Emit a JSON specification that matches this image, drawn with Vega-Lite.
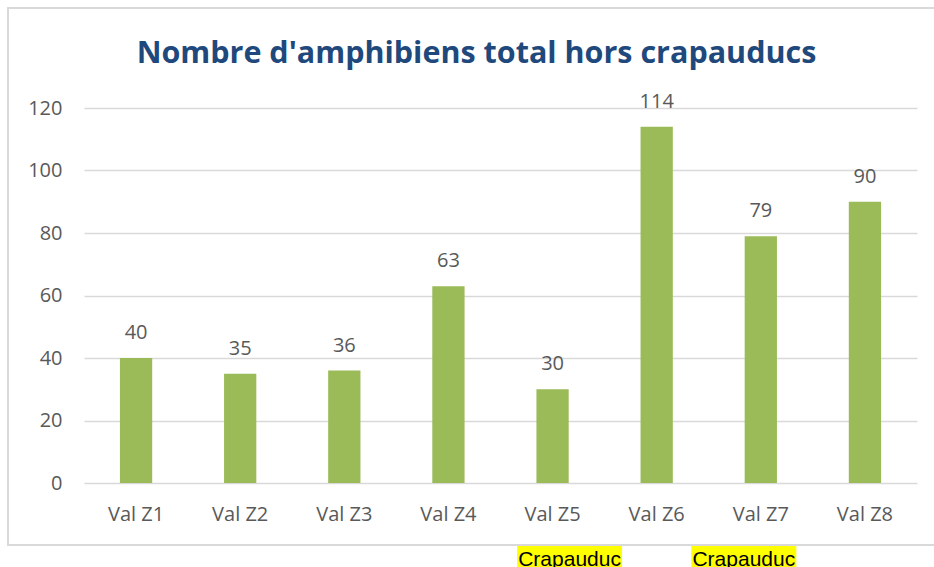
{
  "$schema": "https://vega.github.io/schema/vega-lite/v6.json",
  "width": 833,
  "height": 375,
  "autosize": {"type": "none"},
  "padding": {"left": 84, "top": 108, "right": 17, "bottom": 84},
  "background": "white",
  "title": {
    "text": "Nombre d'amphibiens total hors crapauducs",
    "font": "Open Sans",
    "fontSize": 30.5,
    "fontWeight": "bold",
    "color": "#1F497D",
    "anchor": "middle",
    "offset": -62,
    "dx": -24
  },
  "config": {
    "view": {"stroke": null},
    "axis": {"labelFont": "Open Sans", "labelFontSize": 20, "labelColor": "#595959", "ticks": false, "domain": false, "title": null}
  },
  "datasets": {
    "zones": [
      {"zone": "Val Z1", "count": 40},
      {"zone": "Val Z2", "count": 35},
      {"zone": "Val Z3", "count": 36},
      {"zone": "Val Z4", "count": 63},
      {"zone": "Val Z5", "count": 30},
      {"zone": "Val Z6", "count": 114},
      {"zone": "Val Z7", "count": 79},
      {"zone": "Val Z8", "count": 90}
    ],
    "notes5": [{"zone": "Val Z5", "label": "Crapauduc"}],
    "notes7": [{"zone": "Val Z7", "label": "Crapauduc"}]
  },
  "encoding": {
    "x": {
      "field": "zone", "type": "nominal", "sort": null,
      "scale": {"paddingInner": 0.69, "paddingOuter": 0.345},
      "axis": {"labelAngle": 0, "labelPadding": 21, "grid": false}
    }
  },
  "layer": [
    {
      "data": {"name": "zones"},
      "mark": {"type": "bar", "color": "#9BBB59"},
      "encoding": {
        "y": {
          "field": "count", "type": "quantitative",
          "scale": {"domain": [0, 120]},
          "axis": {"values": [0, 20, 40, 60, 80, 100, 120], "grid": true, "gridColor": "#d9d9d9", "gridWidth": 1.5, "labelPadding": 22}
        }
      }
    },
    {
      "data": {"name": "zones"},
      "mark": {"type": "text", "font": "Open Sans", "fontSize": 20, "color": "#595959", "baseline": "alphabetic", "dy": -19},
      "encoding": {
        "y": {"field": "count", "type": "quantitative"},
        "text": {"field": "count", "type": "quantitative"}
      }
    },
    {
      "data": {"values": [{"frame": 1}]},
      "mark": {"type": "rect", "fill": null, "stroke": "#d9d9d9", "strokeWidth": 2, "xOffset": -76, "x2Offset": 40, "yOffset": -100, "y2Offset": 62},
      "encoding": {
        "x": {"value": 0},
        "x2": {"value": "width"},
        "y": {"value": 0},
        "y2": {"value": "height"}
      }
    },
    {
      "data": {"name": "notes5"},
      "mark": {"type": "rect", "fill": "#FFFF00", "width": 105, "xOffset": 17, "yOffset": 63, "y2Offset": 90},
      "encoding": {"y": {"value": "height"}, "y2": {"value": "height"}}
    },
    {
      "data": {"name": "notes5"},
      "mark": {"type": "text", "font": "Liberation Sans", "fontSize": 21, "color": "#000000", "baseline": "alphabetic", "dx": 17, "dy": 83},
      "encoding": {"y": {"value": "height"}, "text": {"field": "label"}}
    },
    {
      "data": {"name": "notes7"},
      "mark": {"type": "rect", "fill": "#FFFF00", "width": 105, "xOffset": -17, "yOffset": 63, "y2Offset": 90},
      "encoding": {"y": {"value": "height"}, "y2": {"value": "height"}}
    },
    {
      "data": {"name": "notes7"},
      "mark": {"type": "text", "font": "Liberation Sans", "fontSize": 21, "color": "#000000", "baseline": "alphabetic", "dx": -17, "dy": 83},
      "encoding": {"y": {"value": "height"}, "text": {"field": "label"}}
    }
  ]
}
